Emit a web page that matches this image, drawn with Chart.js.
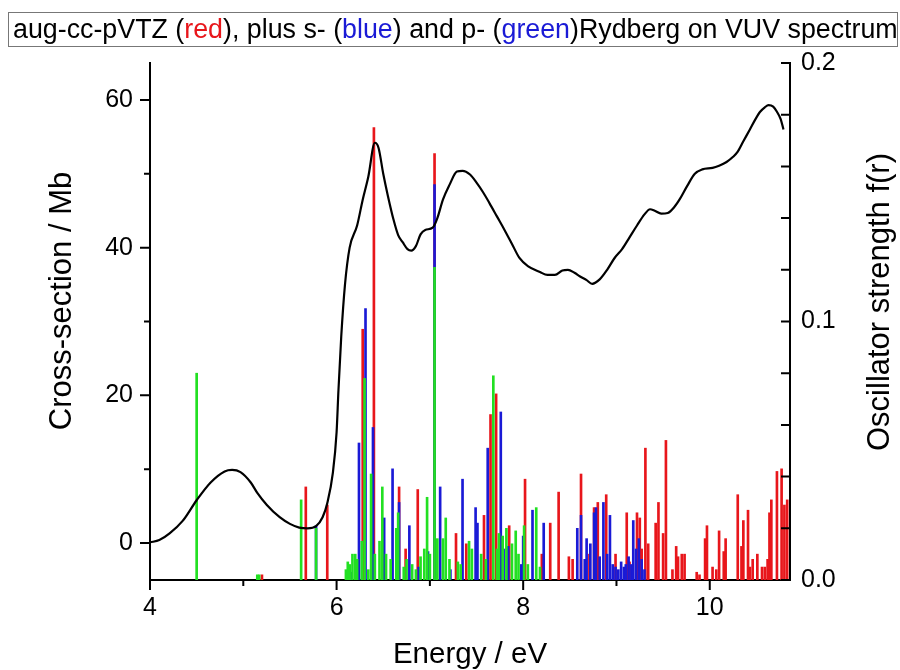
<!DOCTYPE html>
<html>
<head>
<meta charset="utf-8">
<script src="https://cdn.jsdelivr.net/npm/chart.js@4.4.1/dist/chart.umd.min.js"></script>
<style>
  html, body { margin: 0; padding: 0; background: #fff; }
  #wrap { position: relative; width: 900px; height: 670px; }
  #title {
    position: absolute; left: 8px; top: 12px; width: 890px; height: 35px;
    border: 1px solid #777; box-sizing: border-box;
    font-family: "Liberation Sans", Arial, sans-serif; font-size: 26.8px;
    line-height: 33px; padding-left: 4px; white-space: nowrap; color: #000;
  }
  #title .r { color: #e8161b; }
  #title .b { color: #1a1ad6; }
  canvas { position: absolute; left: 0; top: 0; }
</style>
</head>
<body>
<div id="wrap">
  <canvas id="chart" width="900" height="670"></canvas>
  <div id="title">aug-cc-pVTZ (<span class="r">red</span>), plus s- (<span class="b">blue</span>) and p- (<span class="b">green</span>)Rydberg on VUV spectrum</div>
</div>
<script>
// measured VUV spectrum (black line, left axis, Mb)
const vuvE = [4.00, 4.10, 4.21, 4.35, 4.50, 4.65, 4.80, 4.88, 4.97, 5.08, 5.15, 5.25, 5.39, 5.50, 5.60, 5.69, 5.78, 5.85, 5.90, 5.96,
  6.00, 6.02, 6.05, 6.09, 6.14, 6.22, 6.28, 6.34, 6.41, 6.45, 6.50, 6.55, 6.61, 6.66, 6.71, 6.76, 6.80, 6.85, 6.90, 6.95,
  7.03, 7.08, 7.14, 7.21, 7.29, 7.35, 7.43, 7.50, 7.57, 7.64, 7.72, 7.80, 7.88, 7.96, 8.05, 8.18, 8.26, 8.34, 8.42, 8.48,
  8.55, 8.61, 8.68, 8.74, 8.82, 8.90, 8.98, 9.06, 9.14, 9.22, 9.30, 9.36, 9.41, 9.48, 9.55, 9.62, 9.68, 9.76, 9.84, 9.92,
  10.03, 10.10, 10.18, 10.25, 10.30, 10.36, 10.43, 10.49, 10.54, 10.59, 10.63, 10.68, 10.72, 10.76, 10.79];
const vuvMb = [0.1, 0.4, 1.3, 3.0, 5.8, 8.2, 9.7, 9.9, 9.6, 8.2, 6.8, 5.2, 3.5, 2.6, 2.1, 2.0, 2.3, 3.5, 5.4, 9.5,
  15.0, 20.7, 28.0, 35.0, 40.0, 43.0, 46.5, 49.6, 54.2, 53.5, 50.0, 47.0, 43.8, 41.7, 40.7, 39.8, 39.6, 40.2, 41.8, 42.4,
  42.7, 44.0, 46.5, 48.5, 50.3, 50.4, 49.9, 48.8, 47.5, 46.0, 44.2, 42.4, 40.5, 38.6, 37.5, 36.7, 36.3, 36.3, 36.9, 37.0,
  36.6, 36.1, 35.6, 35.1, 35.7, 37.0, 38.6, 39.8, 41.4, 43.0, 44.5, 45.2, 45.0, 44.6, 44.7, 45.5, 46.6, 48.4, 50.0, 50.6,
  50.8, 51.1, 51.6, 52.3, 53.0, 54.4, 56.0, 57.4, 58.4, 59.0, 59.3, 59.1, 58.4, 57.4, 56.0];

// aug-cc-pVTZ sticks (red, right axis)
const redE = [5.20, 5.67, 5.90, 6.28, 6.40, 6.67, 6.74, 6.87, 7.05, 7.28, 7.39, 7.58, 7.65, 7.71, 7.85, 8.02, 8.20, 8.29, 8.38, 8.49,
  8.53, 8.62, 8.71, 8.76, 8.80, 8.89, 8.99, 9.11, 9.14, 9.22, 9.25, 9.27, 9.31, 9.34, 9.42, 9.45, 9.50, 9.53, 9.60, 9.64,
  9.66, 9.70, 9.73, 9.86, 9.89, 9.95, 9.97, 10.03, 10.07, 10.10, 10.15, 10.17, 10.30, 10.34, 10.36, 10.41, 10.43, 10.46, 10.51, 10.56,
  10.59, 10.62, 10.64, 10.66, 10.72, 10.77, 10.80, 10.83];
const redF = [0.002, 0.036, 0.029, 0.097, 0.175, 0.036, 0.012, 0.035, 0.165, 0.018, 0.014, 0.025, 0.064, 0.072, 0.021, 0.039, 0.010, 0.022, 0.034, 0.009,
  0.008, 0.041, 0.010, 0.028, 0.030, 0.033, 0.010, 0.026, 0.007, 0.026, 0.024, 0.012, 0.051, 0.014, 0.022, 0.030, 0.018, 0.054, 0.004, 0.013,
  0.009, 0.010, 0.010, 0.003, 0.002, 0.016, 0.021, 0.005, 0.004, 0.019, 0.011, 0.016, 0.033, 0.013, 0.023, 0.027, 0.005, 0.008, 0.010, 0.005,
  0.005, 0.008, 0.026, 0.031, 0.042, 0.043, 0.029, 0.031];

// s-Rydberg sticks (blue)
const blueE = [5.78, 6.15, 6.24, 6.31, 6.39, 6.51, 6.60, 6.67, 6.78, 6.88, 6.98, 7.05, 7.11, 7.22, 7.35, 7.49, 7.51, 7.62, 7.76, 7.79,
  7.84, 7.98, 8.00, 8.10, 8.22, 8.58, 8.62, 8.66, 8.68, 8.72, 8.76, 8.78, 8.82, 8.86, 8.90, 8.93, 8.96, 8.99, 9.02, 9.05,
  9.08, 9.10, 9.13, 9.16, 9.18, 9.21, 9.24, 9.27, 9.30];
const blueF = [0.021, 0.003, 0.053, 0.105, 0.059, 0.024, 0.043, 0.030, 0.021, 0.005, 0.011, 0.153, 0.036, 0.004, 0.039, 0.028, 0.022, 0.051, 0.065, 0.012,
  0.013, 0.006, 0.017, 0.027, 0.022, 0.020, 0.025, 0.008, 0.016, 0.014, 0.026, 0.028, 0.009, 0.030, 0.010, 0.025, 0.006, 0.005, 0.004, 0.007,
  0.005, 0.006, 0.009, 0.006, 0.023, 0.012, 0.016, 0.008, 0.004];

// p-Rydberg sticks (green)
const greenE = [4.50, 5.15, 5.17, 5.62, 5.78, 6.10, 6.12, 6.14, 6.17, 6.20, 6.22, 6.27, 6.30, 6.34, 6.37, 6.41, 6.46, 6.49, 6.53, 6.58,
  6.64, 6.66, 6.72, 6.75, 6.81, 6.85, 6.90, 6.94, 6.97, 7.00, 7.05, 7.08, 7.14, 7.17, 7.21, 7.30, 7.33, 7.42, 7.45, 7.55,
  7.60, 7.68, 7.72, 7.74, 7.78, 7.82, 7.88, 7.92, 7.95, 8.01, 8.05, 8.14, 8.18];
const greenF = [0.080, 0.002, 0.002, 0.031, 0.020, 0.004, 0.007, 0.006, 0.010, 0.010, 0.008, 0.015, 0.078, 0.004, 0.041, 0.010, 0.015, 0.036, 0.010, 0.008,
  0.020, 0.026, 0.005, 0.008, 0.006, 0.004, 0.009, 0.012, 0.032, 0.010, 0.121, 0.016, 0.016, 0.024, 0.008, 0.007, 0.006, 0.015, 0.012, 0.010,
  0.008, 0.079, 0.012, 0.018, 0.017, 0.020, 0.014, 0.019, 0.010, 0.021, 0.006, 0.028, 0.005];

// tick positions
const xMinor = [5, 7, 9];
const yMinor = [10, 30, 50];
const y2Minor = [0.02, 0.04, 0.06, 0.08, 0.12, 0.14, 0.16, 0.18];

const FONT = '"Liberation Sans", Arial, sans-serif';

function pts(xs, ys) {
  return xs.map((x, i) => ({ x: x, y: ys[i] }));
}

function stick(label, xs, ys, color, order) {
  return {
    type: 'bar', label: label, data: pts(xs, ys), yAxisID: 'y2',
    backgroundColor: color, borderWidth: 0, barThickness: 2, grouped: false, order: order
  };
}

function vText(ctx, text, x, y) {
  ctx.save();
  ctx.translate(x, y);
  ctx.rotate(-Math.PI / 2);
  ctx.fillText(text, 0, 0);
  ctx.restore();
}

// minor/major tick marks + vertical axis titles
const axisDeco = {
  id: 'axisDeco',
  afterDraw(chart) {
    const ctx = chart.ctx;
    const a = chart.chartArea;
    const sx = chart.scales.x, sy = chart.scales.y, sy2 = chart.scales.y2;
    ctx.save();
    ctx.strokeStyle = '#000';
    ctx.lineWidth = 2;
    ctx.beginPath();
    sx.ticks.forEach(t => { const p = sx.getPixelForValue(t.value); ctx.moveTo(p, a.bottom); ctx.lineTo(p, a.bottom + 10); });
    xMinor.forEach(v => { const p = sx.getPixelForValue(v); ctx.moveTo(p, a.bottom); ctx.lineTo(p, a.bottom + 6); });
    sy.ticks.forEach(t => { const p = sy.getPixelForValue(t.value); ctx.moveTo(a.left, p); ctx.lineTo(a.left - 10, p); });
    yMinor.forEach(v => { const p = sy.getPixelForValue(v); ctx.moveTo(a.left, p); ctx.lineTo(a.left - 6, p); });
    sy2.ticks.forEach(t => { const p = sy2.getPixelForValue(t.value); ctx.moveTo(a.right, p); ctx.lineTo(a.right - 9, p); });
    y2Minor.forEach(v => { const p = sy2.getPixelForValue(v); ctx.moveTo(a.right, p); ctx.lineTo(a.right - 9, p); });
    ctx.stroke();

    ctx.fillStyle = '#000';
    ctx.font = '31px ' + FONT;
    ctx.textAlign = 'center';
    ctx.textBaseline = 'middle';
    vText(ctx, 'Cross-section / Mb', 62, 301);
    vText(ctx, 'Oscillator strength f(r)', 880, 302);
    ctx.restore();
  }
};

new Chart(document.getElementById('chart'), {
  type: 'bar',
  data: {
    datasets: [
      {
        type: 'line', label: 'VUV', data: pts(vuvE, vuvMb), yAxisID: 'y',
        borderColor: '#000', borderWidth: 2.2, pointRadius: 0, fill: false,
        cubicInterpolationMode: 'monotone', order: 0
      },
      stick('p-Rydberg', greenE, greenF, '#22e022', 1),
      stick('s-Rydberg', blueE, blueF, '#1a1ad6', 2),
      stick('aug-cc-pVTZ', redE, redF, '#e8161b', 3)
    ]
  },
  options: {
    responsive: false,
    animation: false,
    devicePixelRatio: 1,
    layout: { padding: { top: 63, left: 0, right: 0, bottom: 0 } },
    plugins: { legend: { display: false }, tooltip: { enabled: false } },
    scales: {
      x: {
        type: 'linear', position: 'bottom', min: 4, max: 10.86, offset: false,
        grid: { display: false, drawTicks: false, offset: false },
        border: { display: true, color: '#000', width: 2 },
        ticks: { stepSize: 2, includeBounds: false, color: '#000', padding: 13, maxRotation: 0, font: { family: FONT, size: 25 } },
        title: { display: true, text: 'Energy / eV', color: '#000', font: { family: FONT, size: 29.5 }, padding: { top: 0, bottom: -3 } },
        afterFit(s) { s.height = 90; }
      },
      y: {
        type: 'linear', position: 'left', min: -5, max: 65,
        grid: { display: false, drawTicks: false },
        border: { display: true, color: '#000', width: 2 },
        ticks: { stepSize: 20, includeBounds: false, color: '#000', padding: 17, font: { family: FONT, size: 25 } },
        afterFit(s) { s.width = 150; }
      },
      y2: {
        type: 'linear', position: 'right', min: 0, max: 0.2,
        grid: { display: false, drawTicks: false },
        border: { display: true, color: '#000', width: 2 },
        ticks: { stepSize: 0.1, includeBounds: false, color: '#000', padding: 11, font: { family: FONT, size: 25 },
          callback: v => v.toFixed(1) },
        afterFit(s) { s.width = 110; }
      }
    }
  },
  plugins: [axisDeco]
});
</script>
</body>
</html>
